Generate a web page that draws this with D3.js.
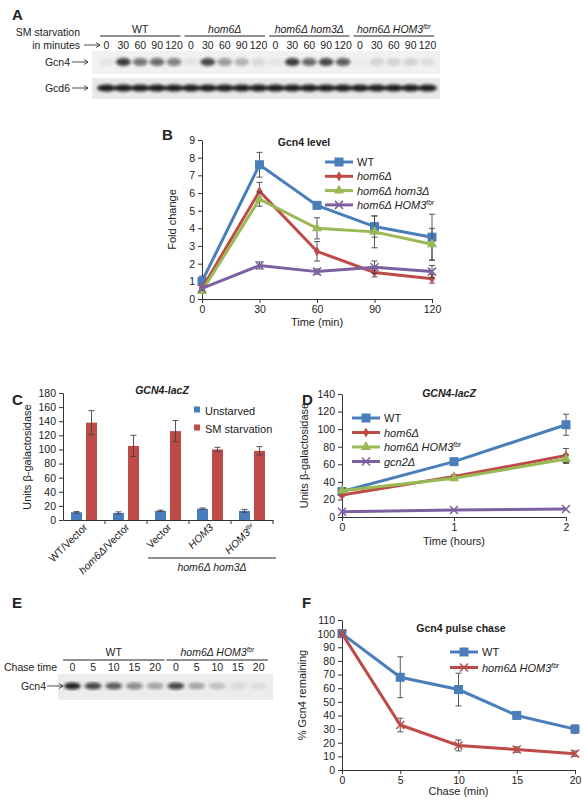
<!DOCTYPE html>
<html><head><meta charset="utf-8">
<script src="https://cdn.jsdelivr.net/npm/d3@7"></script>
<style>body{margin:0;background:#fff}text{font-family:"Liberation Sans",Arial,sans-serif;fill:#222}</style>
</head><body><div class="container"></div>
<script>
// ---- data ----
const timesB = [0, 30, 60, 90, 120];
const bWT = [1, 7.6, 5.3, 4.1, 3.5], bWTe = [0.3, 0.7, 0.2, 0.6, 1.3];
const bH6 = [0.6, 6.1, 2.7, 1.5, 1.15], bH6e = [0.1, 0.5, 0.55, 0.25, 0.25];
const bH6H3 = [0.45, 5.65, 4.0, 3.8, 3.1], bH6H3e = [0.1, 0.4, 0.6, 0.9, 0.9];
const bFbr = [0.6, 1.9, 1.55, 1.8, 1.55], bFbre = [0.1, 0.2, 0.15, 0.35, 0.35];

const catsC = ["WT/Vector", "hom6Δ/Vector", "Vector", "HOM3", "HOM3fbr"];
const cUn = [11, 10, 13, 16, 13], cUnE = [1, 1.5, 1, 1, 2];
const cSM = [138, 105, 126, 100, 98], cSME = [17, 15, 15, 3, 6];

const timesD = [0, 1, 2];
const dWT = [29, 63, 105], dWTe = [0, 2, 12];
const dH6 = [25, 46, 70], dH6e = [2, 2, 8];
const dFbr = [30, 44, 66], dFbre = [2, 2, 5];
const dG2 = [6, 8, 9], dG2e = [0, 0, 0];

const timesF = [0, 5, 10, 15, 20];
const fWT = [100, 68, 59, 40, 30], fWTe = [1, 15, 12, 2, 3];
const fFbr = [100, 33, 18, 15, 12], fFbre = [1, 5, 4, 2, 2];

const lanesA = ["0", "30", "60", "90", "120"];
const gcn4A = [[0.05, 0.8, 0.55, 0.6, 0.5], [0.05, 0.75, 0.4, 0.25, 0.1], [0.05, 0.8, 0.6, 0.75, 0.65], [0.02, 0.12, 0.12, 0.12, 0.08]];
const lanesE = ["0", "5", "10", "15", "20"];
const gcn4E = [[0.9, 0.75, 0.65, 0.45, 0.3], [0.75, 0.3, 0.18, 0.08, 0.06]];

const blue = "#4a7ebb", red = "#be4b48", green = "#98b954", purple = "#7d60a0";

const svg = d3.select(".container").append("svg").attr("width", 584).attr("height", 800);
const defs = svg.append("defs");
defs.append("filter").attr("id", "blur").append("feGaussianBlur").attr("stdDeviation", 1.6);

function label(x, y, t, opt = {}) {
  return svg.append("text").attr("x", x).attr("y", y).text(t)
    .attr("font-size", opt.size || 11).attr("text-anchor", opt.anchor || "start")
    .attr("font-weight", opt.bold ? "bold" : null).attr("font-style", opt.italic ? "italic" : null);
}
// italic rich label, parts: [text, italic, sup]
function rich(x, y, parts, size, anchor) {
  const t = svg.append("text").attr("x", x).attr("y", y).attr("font-size", size || 11).attr("text-anchor", anchor || "start");
  parts.forEach(p => {
    const s = t.append("tspan").text(p[0]).attr("font-style", p[1] ? "italic" : null);
    if (p[2]) s.attr("font-size", (size || 11) * 0.6).attr("dy", -4);
  });
  return t;
}
function arrow(x1, x2, y) {
  svg.append("line").attr("x1", x1).attr("x2", x2).attr("y1", y).attr("y2", y).attr("stroke", "#222").attr("stroke-width", 0.8);
  svg.append("path").attr("d", `M${x2 - 4},${y - 2.5}L${x2},${y}L${x2 - 4},${y + 2.5}`).attr("fill", "none").attr("stroke", "#222").attr("stroke-width", 0.8);
}
const panelLetters = [["A", 12, 20], ["B", 162, 140], ["C", 12, 405], ["D", 302, 405], ["E", 12, 608], ["F", 302, 608]];
panelLetters.forEach(p => label(p[1], p[2], p[0], { size: 15, bold: true }));

// ---- panel A blot ----
const groupsA = [[["WT", 0]], [["hom6Δ", 1]], [["hom6Δ hom3Δ", 1]], [["hom6Δ ", 1], ["HOM3", 1], ["fbr", 1, 1]]];
const laneX = d3.scaleBand().domain(d3.range(20)).range([98, 436]);
label(80, 36, "SM starvation", { size: 10.5, anchor: "end" });
label(80, 49, "in minutes", { size: 10.5, anchor: "end" });
arrow(84, 100, 45);
groupsA.forEach((g, gi) => {
  const x0 = laneX(gi * 5) + 2, x1 = laneX(gi * 5 + 4) + laneX.bandwidth() - 2;
  rich((x0 + x1) / 2, 33, g, 10.5, "middle");
  svg.append("line").attr("x1", x0).attr("x2", x1).attr("y1", 36).attr("y2", 36).attr("stroke", "#222");
  lanesA.forEach((l, li) => label(laneX(gi * 5 + li) + laneX.bandwidth() / 2, 49, l, { size: 10.5, anchor: "middle" }));
});
svg.append("rect").attr("x", 92).attr("y", 51).attr("width", 348).attr("height", 23).attr("fill", "#f1f1f1");
svg.append("rect").attr("x", 92).attr("y", 78).attr("width", 348).attr("height", 21).attr("fill", "#e9e9e9");
const bandsA = svg.append("g").attr("filter", "url(#blur)");
gcn4A.forEach((g, gi) => g.forEach((v, li) => {
  bandsA.append("ellipse").attr("cx", laneX(gi * 5 + li) + laneX.bandwidth() / 2).attr("cy", 62)
    .attr("rx", 7.5).attr("ry", 4).attr("fill", "#111").attr("opacity", v);
}));
d3.range(20).forEach(i => {
  bandsA.append("ellipse").attr("cx", laneX(i) + laneX.bandwidth() / 2).attr("cy", 88)
    .attr("rx", 9.5).attr("ry", 3.6).attr("fill", "#111").attr("opacity", 0.92);
});
label(70, 66, "Gcn4", { size: 10.5, anchor: "end" }); arrow(72, 88, 62);
label(70, 92, "Gcd6", { size: 10.5, anchor: "end" }); arrow(72, 88, 88);

// ---- generic line chart ----
function lineChart(o) {
  const x = d3.scaleLinear().domain(o.xd).range(o.xr);
  const y = d3.scaleLinear().domain(o.yd).range(o.yr);
  const g = svg.append("g");
  g.append("g").attr("transform", `translate(0,${o.yr[0]})`)
    .call(d3.axisBottom(x).tickValues(o.xt).tickFormat(d3.format("d")).tickSize(4).tickSizeOuter(0))
    .call(a => a.selectAll("text").attr("font-size", 10.5).attr("fill", "#444"));
  g.append("g").attr("transform", `translate(${o.xr[0]},0)`)
    .call(d3.axisLeft(y).tickValues(o.yt).tickSize(4).tickSizeOuter(0))
    .call(a => a.selectAll("text").attr("font-size", 10.5).attr("fill", "#444"));
  g.selectAll(".domain,.tick line").attr("stroke", "#333");
  o.series.forEach(s => {
    s.v.forEach((v, i) => {
      const e = s.e[i]; if (!e) return;
      const cx = x(o.xs[i]);
      g.append("path").attr("d", `M${cx},${y(v - e)}V${y(v + e)}M${cx - 3},${y(v - e)}H${cx + 3}M${cx - 3},${y(v + e)}H${cx + 3}`)
        .attr("stroke", "#444").attr("stroke-width", 0.9).attr("fill", "none");
    });
    g.append("path").datum(s.v).attr("d", d3.line().x((d, i) => x(o.xs[i])).y(d => y(d)))
      .attr("fill", "none").attr("stroke", s.c).attr("stroke-width", 3);
    s.v.forEach((v, i) => marker(g, x(o.xs[i]), y(v), s.m, s.c));
  });
  o.series.forEach((s, i) => {
    const ly = o.leg[1] + i * o.leg[3];
    g.append("line").attr("x1", o.leg[0]).attr("x2", o.leg[0] + o.leg[2]).attr("y1", ly).attr("y2", ly).attr("stroke", s.c).attr("stroke-width", 3);
    marker(g, o.leg[0] + o.leg[2] / 2, ly, s.m, s.c);
    rich(o.leg[0] + o.leg[2] + 4, ly + 4, s.n, 11);
  });
  label(o.title[0], o.title[1], o.title[2], { size: 10.5, bold: true, italic: o.title[3], anchor: "middle" });
  svg.append("text").attr("transform", `translate(${o.ylab[0]},${(o.yr[0] + o.yr[1]) / 2}) rotate(-90)`)
    .attr("text-anchor", "middle").attr("font-size", 11).text(o.ylab[1]);
  if (o.xlab) label((o.xr[0] + o.xr[1]) / 2, o.xlab[0], o.xlab[1], { size: 11, anchor: "middle" });
}
function marker(g, cx, cy, m, c) {
  if (m === "sq") g.append("rect").attr("x", cx - 4.5).attr("y", cy - 4.5).attr("width", 9).attr("height", 9).attr("fill", c);
  else if (m === "di") g.append("path").attr("d", d3.symbol(d3.symbolDiamond, 30)()).attr("transform", `translate(${cx},${cy})`).attr("fill", c);
  else if (m === "tri") g.append("path").attr("d", d3.symbol(d3.symbolTriangle, 45)()).attr("transform", `translate(${cx},${cy})`).attr("fill", c);
  else g.append("path").attr("d", `M${cx - 4},${cy - 4}L${cx + 4},${cy + 4}M${cx - 4},${cy + 4}L${cx + 4},${cy - 4}`).attr("stroke", c).attr("stroke-width", 1.5);
}
const nWT = [["WT"]], nH6 = [["hom6Δ", 1]], nH6H3 = [["hom6Δ hom3Δ", 1]], nFbr = [["hom6Δ ", 1], ["HOM3", 1], ["fbr", 1, 1]];

lineChart({
  xd: [0, 120], xr: [202, 432], yd: [0, 9], yr: [299, 140], xs: timesB, xt: timesB, yt: d3.range(10),
  series: [
    { v: bWT, e: bWTe, c: blue, m: "sq", n: nWT },
    { v: bH6, e: bH6e, c: red, m: "di", n: nH6 },
    { v: bH6H3, e: bH6H3e, c: green, m: "tri", n: nH6H3 },
    { v: bFbr, e: bFbre, c: purple, m: "x", n: nFbr }],
  leg: [325, 162, 28, 14.3], title: [304, 146, "Gcn4 level"], ylab: [176, "Fold change"], xlab: [326, "Time (min)"]
});

lineChart({
  xd: [0, 2], xr: [342, 566], yd: [0, 140], yr: [517, 394], xs: timesD, xt: timesD, yt: d3.range(0, 141, 20),
  series: [
    { v: dWT, e: dWTe, c: blue, m: "sq", n: nWT },
    { v: dH6, e: dH6e, c: red, m: "di", n: nH6 },
    { v: dFbr, e: dFbre, c: green, m: "tri", n: nFbr },
    { v: dG2, e: dG2e, c: purple, m: "x", n: [["gcn2Δ", 1]] }],
  leg: [352, 418, 28, 14.5], title: [449, 397, "GCN4-lacZ", 1], ylab: [308, "Units β-galactosidase"], xlab: [545, "Time (hours)"]
});

lineChart({
  xd: [0, 20], xr: [342, 575], yd: [0, 110], yr: [770, 620], xs: timesF, xt: timesF, yt: d3.range(0, 111, 10),
  series: [
    { v: fWT, e: fWTe, c: blue, m: "sq", n: nWT },
    { v: fFbr, e: fFbre, c: red, m: "x", n: nFbr }],
  leg: [450, 652, 28, 15.5], title: [461, 632, "Gcn4 pulse chase"], ylab: [306, "% Gcn4 remaining"], xlab: [795, "Chase (min)"]
});

// ---- panel C bar chart ----
{
  const x = d3.scaleBand().domain(catsC).range([63, 273]);
  const y = d3.scaleLinear().domain([0, 180]).range([520, 393]);
  const g = svg.append("g");
  const ax = g.append("g").attr("transform", "translate(0,520)").call(d3.axisBottom(x).tickSize(4).tickSizeOuter(0).tickFormat(""));
  ax.selectAll(".tick line").attr("transform", `translate(${x.bandwidth() / 2},0)`);
  g.append("g").attr("transform", "translate(63,0)").call(d3.axisLeft(y).tickValues(d3.range(0, 181, 20)).tickSize(4).tickSizeOuter(0))
    .call(a => a.selectAll("text").attr("font-size", 10.5).attr("fill", "#444"));
  g.selectAll(".domain,.tick line").attr("stroke", "#333");
  const bw = 11;
  [[cUn, cUnE, blue, -13], [cSM, cSME, red, 2]].forEach(([vals, errs, c, off]) => {
    vals.forEach((v, i) => {
      const cx = x(catsC[i]) + x.bandwidth() / 2 + off;
      g.append("rect").attr("x", cx).attr("y", y(v)).attr("width", bw).attr("height", 520 - y(v)).attr("fill", c);
      const m = cx + bw / 2, e = errs[i];
      g.append("path").attr("d", `M${m},${y(v - e)}V${y(v + e)}M${m - 3},${y(v - e)}H${m + 3}M${m - 3},${y(v + e)}H${m + 3}`)
        .attr("stroke", "#444").attr("stroke-width", 0.9).attr("fill", "none");
    });
  });
  const catParts = [[["WT/Vector"]], [["hom6Δ", 1], ["/Vector"]], [["Vector"]], [["HOM3", 1]], [["HOM3", 1], ["fbr", 1, 1]]];
  catsC.forEach((c, i) => {
    const t = rich(0, 0, catParts[i], 10.5, "end");
    t.attr("transform", `translate(${x(c) + x.bandwidth() / 2 + 4},${528}) rotate(-45)`);
  });
  svg.append("line").attr("x1", 148).attr("x2", 276).attr("y1", 558).attr("y2", 558).attr("stroke", "#222");
  label(212, 571, "hom6Δ hom3Δ", { size: 10.5, anchor: "middle", italic: true });
  label(162, 394, "GCN4-lacZ", { size: 10.5, bold: true, italic: true, anchor: "middle" });
  svg.append("text").attr("transform", "translate(31,457) rotate(-90)").attr("text-anchor", "middle").attr("font-size", 11).text("Units β-galactosidase");
  [["Unstarved", blue], ["SM starvation", red]].forEach((l, i) => {
    svg.append("rect").attr("x", 194).attr("y", 410 + i * 18 - 3.5).attr("width", 6).attr("height", 6).attr("fill", l[1]);
    label(205, 414.5 + i * 18, l[0], { size: 11 });
  });
}

// ---- panel E blot ----
{
  const lx = d3.scaleBand().domain(d3.range(10)).range([62, 269]);
  [[["WT"]], [["hom6Δ ", 1], ["HOM3", 1], ["fbr", 1, 1]]].forEach((g, gi) => {
    const x0 = lx(gi * 5) + 1, x1 = lx(gi * 5 + 4) + lx.bandwidth() - 1;
    rich((x0 + x1) / 2, 656, g, 10.5, "middle");
    svg.append("line").attr("x1", x0).attr("x2", x1).attr("y1", 660).attr("y2", 660).attr("stroke", "#222");
    lanesE.forEach((l, li) => label(lx(gi * 5 + li) + lx.bandwidth() / 2, 671, l, { size: 10.5, anchor: "middle" }));
  });
  label(4, 671, "Chase time", { size: 10.5 });
  svg.append("rect").attr("x", 58).attr("y", 674).attr("width", 215).attr("height", 26).attr("fill", "#ececec");
  const b = svg.append("g").attr("filter", "url(#blur)");
  gcn4E.forEach((g, gi) => g.forEach((v, li) => {
    b.append("ellipse").attr("cx", lx(gi * 5 + li) + lx.bandwidth() / 2).attr("cy", 686).attr("rx", 8.5).attr("ry", 3.5).attr("fill", "#111").attr("opacity", v);
  }));
  label(46, 690, "Gcn4", { size: 10.5, anchor: "end" }); arrow(47, 63, 686);
}
</script></body></html>
